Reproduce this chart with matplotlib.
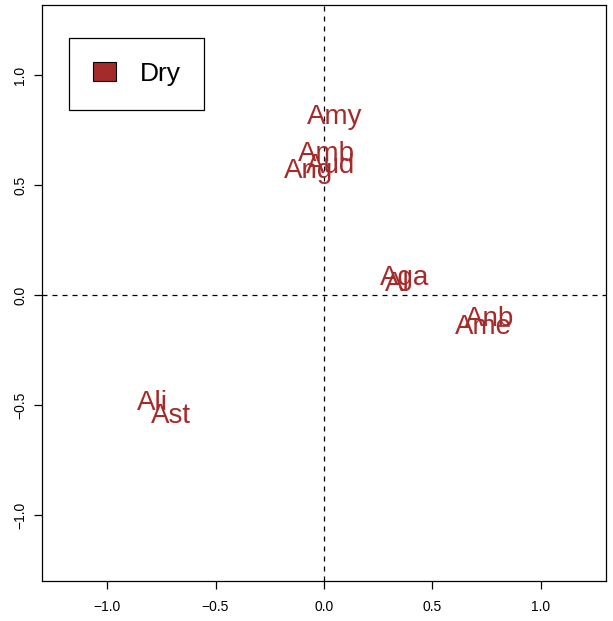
import matplotlib
matplotlib.use("Agg")
import matplotlib.pyplot as plt
from matplotlib.patches import Patch

plt.rcParams['font.family'] = ['Liberation Sans', 'DejaVu Sans']

labels = ["Amy", "Amb", "Aud", "Ang", "Aga", "Al", "Anb", "Ame", "Ali", "Ast"]
x_vals = [0.05, 0.01, 0.03, -0.07, 0.37, 0.34, 0.765, 0.737, -0.79, -0.705]
y_vals = [0.81, 0.64, 0.585, 0.565, 0.075, 0.05, -0.11, -0.145, -0.49, -0.55]
group = "Dry"
color = "#A52A2A"

fig = plt.figure(figsize=(6.13, 6.21), dpi=100)
ax = fig.add_axes([42/613, 40/621, 564/613, 576/621])

for lab, x, y in zip(labels, x_vals, y_vals):
    ax.text(x, y, lab, color=color, fontsize=20, ha='center', va='center')

ax.axhline(0, color='black', linestyle=(0, (4, 4)), linewidth=0.9)
ax.axvline(0, color='black', linestyle=(0, (4, 4)), linewidth=0.9)

ax.set_xlim(-1.30, 1.30)
ax.set_ylim(-1.30, 1.318)
ticks = [-1.0, -0.5, 0.0, 0.5, 1.0]
ax.set_xticks(ticks)
ax.set_yticks(ticks)
ax.set_xticklabels([f"{t:.1f}".replace("-", "\u2212") for t in ticks], fontsize=10)
ax.set_yticklabels([f"{t:.1f}".replace("-", "\u2212") for t in ticks], fontsize=10,
                   rotation=90, va='center')
ax.tick_params(axis='both', length=5.5, width=0.9)
ax.tick_params(axis='x', pad=8)
ax.tick_params(axis='y', pad=5)
for s in ax.spines.values():
    s.set_linewidth(0.9)

leg = ax.legend(handles=[Patch(facecolor=color, edgecolor='black', linewidth=0.8, label=group)],
                loc='upper left', bbox_to_anchor=(27/564, 543/576), borderaxespad=0,
                fontsize=19, handlelength=0.87, handleheight=0.7, borderpad=0.9,
                handletextpad=0.9, fancybox=False, edgecolor='black', framealpha=1)
leg.get_frame().set_linewidth(0.9)

fig.savefig("out.png", dpi=100)
